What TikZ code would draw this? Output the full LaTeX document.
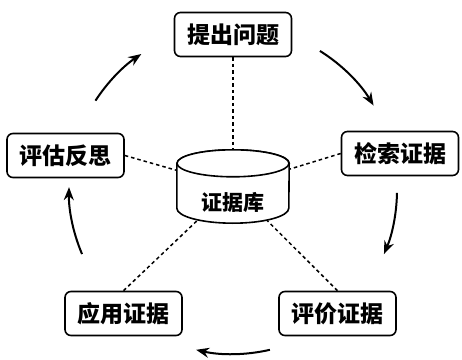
\documentclass[tikz,border=0pt]{standalone}
\usepackage{fontspec}
\newfontfamily\cjk{Noto Sans CJK SC}
\usetikzlibrary{arrows.meta,backgrounds,calc}
\tikzset{
  stagebox/.style={rectangle, rounded corners=6pt, draw, line width=1.6pt, fill=white,
                   minimum width=117pt, minimum height=44pt, inner sep=0pt,
                   font=\cjk\bfseries\fontsize{23}{26}\selectfont},
  dbframe/.style={rectangle, minimum width=112pt, minimum height=73pt, inner sep=0pt},
  dbline/.style={line width=1.6pt, fill=white},
  dblabel/.style={font=\cjk\bfseries\fontsize{21}{24}\selectfont, inner sep=0pt},
  linkline/.style={line width=1.5pt, dash pattern=on 3.5pt off 3pt},
  cyclearrow/.style={-{Stealth[length=13pt,width=10pt]}, line width=2pt},
}

\begin{document}
\begin{tikzpicture}[x=1pt,y=1pt]
  \useasboundingbox (0,0) rectangle (462,359);

  % five stages round the store
  \node[stagebox] (ask)      at (233,324.5) {提出问题};
  \node[stagebox] (search)   at (400,205.5) {检索证据};
  \node[stagebox] (appraise) at (337.5,45.5) {评价证据};
  \node[stagebox] (apply)    at (123.5,45.5) {应用证据};
  \node[stagebox] (assess)   at (65.5,203.5) {评估反思};

  % evidence store (drawn as a drum)
  \node[dbframe] (db) at (233,172.5) {};
  \draw[dbline] ([yshift=-13.5pt]db.north west) -- ([yshift=15pt]db.south west)
    arc[start angle=180, end angle=360, x radius=56pt, y radius=15pt]
    -- ([yshift=-13.5pt]db.north east)
    arc[start angle=0, end angle=180, x radius=56pt, y radius=13.5pt] -- cycle;
  \draw[dbline] ([yshift=-13.5pt]db.north) ellipse[x radius=56pt, y radius=13.5pt];
  \node[dblabel] (dbtext) at ([yshift=-15.5pt]db.center) {证据库};

  \begin{scope}[on background layer]
    \foreach \a in {ask.south, search.west, appraise.north, apply.north, assess.east}
      \draw[linkline] (\a) -- (db.center);
  \end{scope}

  % cycle arrows
  \coordinate (ring) at (233,169);
  \foreach \s/\e in {147/124, 58/31, -1/-23, -77/-103, 203/179}
    \draw[cyclearrow] ($(ring)+(\s:164)$) arc[start angle=\s, end angle=\e, radius=164];
\end{tikzpicture}
\end{document}
